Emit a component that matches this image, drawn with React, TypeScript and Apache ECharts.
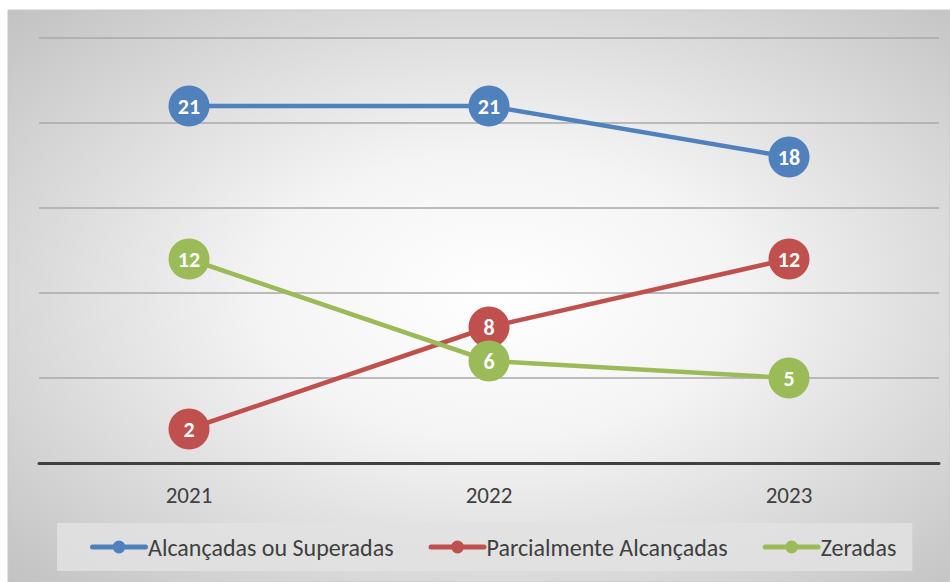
import React, { useEffect, useRef } from "react";
import * as echarts from "echarts";

const categories = ["2021", "2022", "2023"];
const alcancadas = [21, 21, 18];
const parcialmente = [2, 8, 12];
const zeradas = [12, 6, 5];
const seriesNames = ["Alcançadas ou Superadas", "Parcialmente Alcançadas", "Zeradas"];
const colors = ["#4F81BD", "#C0504D", "#9BBB59"];

const FONT = "Carlito, 'Liberation Sans Narrow', 'Open Sans', sans-serif";
const LEGEND_ICON =
  "path://M2.5,4.5 L55.5,4.5 A2.5,2.5 0 0,1 55.5,9.5 L2.5,9.5 A2.5,2.5 0 0,1 2.5,4.5 Z M29,0.5 A6.5,6.5 0 1,1 29,13.5 A6.5,6.5 0 1,1 29,0.5 Z M0,7 L0,7.01 Z M58,7 L58,7.01 Z M29,0 L29.01,0 Z M29,14 L29.01,14 Z";

export default function App() {
  const ref = useRef<HTMLDivElement>(null);
  useEffect(() => {
    const chart = echarts.init(ref.current!, undefined, { renderer: "svg" });
    const mk = (name: string, data: number[], color: string) => ({
      name,
      type: "line",
      data,
      symbol: "circle",
      symbolSize: 41,
      lineStyle: { width: 4.5, color },
      itemStyle: { color },
      label: {
        show: true,
        position: "inside",
        color: "#ffffff",
        fontWeight: "bold",
        fontSize: 22,
        fontFamily: FONT,
      },
      z: 3,
    });
    chart.setOption({
      animation: false,
      graphic: [
        {
          type: "rect",
          z: -10,
          shape: { x: 8, y: 10, width: 942, height: 572 },
          style: {
            fill: new echarts.graphic.RadialGradient(0.52, 0.5, 0.72, [
              { offset: 0, color: "#ffffff" },
              { offset: 0.35, color: "#f4f4f4" },
              { offset: 1, color: "#c2c2c2" },
            ]),
            stroke: "#c8c8c8",
            lineWidth: 1,
          },
        },
      ],
      grid: { left: 39, right: 11, top: 38, bottom: 119 },
      xAxis: {
        type: "category",
        data: categories,
        boundaryGap: true,
        axisTick: { show: false },
        axisLine: { lineStyle: { color: "#404040", width: 3 } },
        axisLabel: { color: "#404040", fontSize: 23, fontFamily: FONT, margin: 20 },
      },
      yAxis: {
        type: "value",
        min: 0,
        max: 25,
        interval: 5,
        axisLabel: { show: false },
        axisLine: { show: false },
        axisTick: { show: false },
        splitLine: { lineStyle: { color: "#a8a8a8", width: 1.5 } },
      },
      legend: {
        bottom: 11,
        left: 57,
        icon: LEGEND_ICON,
        itemWidth: 58,
        itemHeight: 14,
        itemGap: 35,
        padding: [12, 16, 12, 33],
        backgroundColor: "rgba(226,226,226,0.85)",
        textStyle: { color: "#404040", fontSize: 24, fontFamily: FONT, padding: [0, 0, 0, -5] },
        data: seriesNames,
      },
      series: [
        mk(seriesNames[0], alcancadas, colors[0]),
        mk(seriesNames[1], parcialmente, colors[1]),
        mk(seriesNames[2], zeradas, colors[2]),
      ],
    });
    return () => chart.dispose();
  }, []);
  return <div ref={ref} style={{ width: 950, height: 582, position: "absolute", left: 0, top: 0 }} />;
}
